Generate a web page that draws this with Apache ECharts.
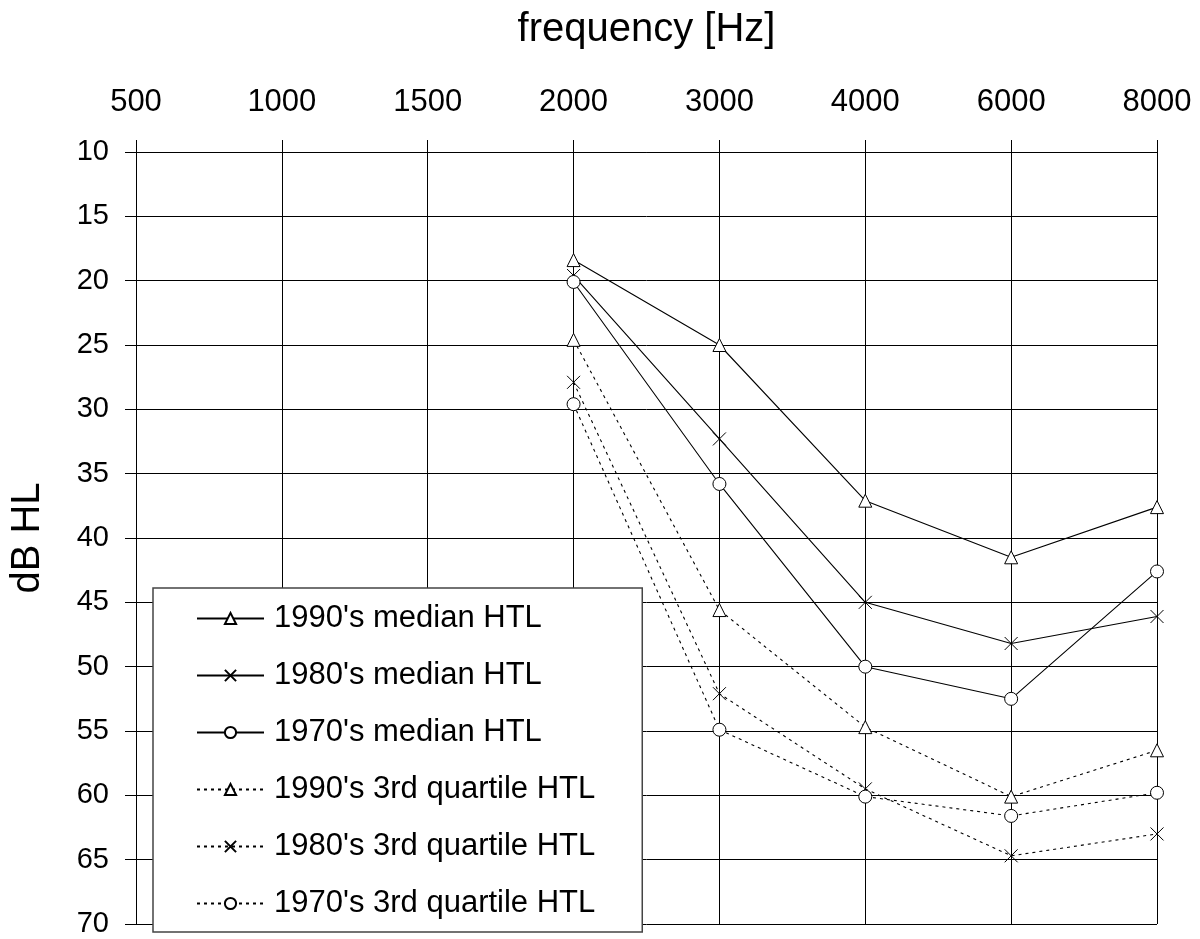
<!DOCTYPE html>
<html>
<head>
<meta charset="utf-8">
<script src="https://cdn.jsdelivr.net/npm/echarts@6/dist/echarts.min.js"></script>
<style>
html,body{margin:0;padding:0;background:#fff;}
#chart{width:1200px;height:939px;}
</style>
</head>
<body>
<div id="chart"></div>
<script>
var categories = ['500','1000','1500','2000','3000','4000','6000','8000'];
var yTicks = { min: 10, max: 70, interval: 5 };

var median1990 = [null, null, null, 18.4, 25.0, 37.1, 41.5, 37.6];
var median1980 = [null, null, null, 19.6, 32.3, 45.0, 48.2, 46.1];
var median1970 = [null, null, null, 20.1, 35.8, 50.0, 52.5, 42.6];
var q3_1990 = [null, null, null, 24.6, 45.6, 54.7, 60.1, 56.5];
var q3_1980 = [null, null, null, 27.9, 52.1, 59.5, 64.7, 63.0];
var q3_1970 = [null, null, null, 29.6, 54.9, 60.1, 61.6, 59.8];

var names = ["1990's median HTL", "1980's median HTL", "1970's median HTL",
             "1990's 3rd quartile HTL", "1980's 3rd quartile HTL", "1970's 3rd quartile HTL"];

var crossPath = 'path://M0,0L10,10M10,0L0,10';

function mkSeries(name, data, symbol, dashed) {
  return {
    name: name,
    type: 'line',
    data: data,
    symbol: symbol,
    symbolSize: symbol === 'circle' ? 13 : 13,
    showAllSymbol: true,
    connectNulls: false,
    itemStyle: { color: '#fff', borderColor: '#000', borderWidth: 1 },
    lineStyle: { color: '#000', width: 1.1, type: dashed ? [3, 4] : 'solid' },
    emphasis: { disabled: true },
    z: 3
  };
}

var chart = echarts.init(document.getElementById('chart'), null, { renderer: 'canvas' });
chart.setOption({
  animation: false,
  backgroundColor: '#fff',
  textStyle: { fontFamily: 'Liberation Sans, Arial, sans-serif', color: '#000' },
  grid: { left: 134, right: 43, top: 152, bottom: 15, containLabel: false },
  xAxis: {
    type: 'category',
    position: 'top',
    data: categories,
    boundaryGap: false,
    name: 'frequency [Hz]',
    nameLocation: 'middle',
    nameGap: 102,
    nameTextStyle: { fontSize: 40, color: '#000', fontFamily: 'Liberation Sans, Arial, sans-serif' },
    axisLine: { show: true, lineStyle: { color: '#000', width: 1 } },
    axisTick: { show: true, inside: false, length: 12, alignWithLabel: true, lineStyle: { color: '#000', width: 1 } },
    axisLabel: { fontSize: 31, color: '#000', margin: 34, interval: 0, fontFamily: 'Liberation Sans, Arial, sans-serif' },
    splitLine: { show: true, lineStyle: { color: '#000', width: 1 } }
  },
  yAxis: {
    type: 'value',
    inverse: true,
    min: yTicks.min,
    max: yTicks.max,
    interval: yTicks.interval,
    name: 'dB HL',
    nameLocation: 'middle',
    nameRotate: 90,
    nameGap: 88,
    nameTextStyle: { fontSize: 40, color: '#000', fontFamily: 'Liberation Sans, Arial, sans-serif' },
    axisLine: { show: true, lineStyle: { color: '#000', width: 1 } },
    axisTick: { show: true, inside: false, length: 11, lineStyle: { color: '#000', width: 1 } },
    axisLabel: { fontSize: 29, color: '#000', margin: 27, fontFamily: 'Liberation Sans, Arial, sans-serif' },
    splitLine: { show: true, lineStyle: { color: '#000', width: 1 } }
  },
  legend: {
    orient: 'vertical',
    left: 153,
    top: 588,
    data: names,
    itemWidth: 67,
    itemHeight: 14,
    itemGap: 26,
    padding: [15, 47, 13, 43],
    backgroundColor: '#fff',
    borderColor: '#444',
    borderWidth: 1.5,
    borderRadius: 0,
    selectedMode: false,
    textStyle: { fontSize: 31, lineHeight: 30, color: '#000', padding: [0, 0, 0, 5], fontFamily: 'Liberation Sans, Arial, sans-serif' },
    z: 10
  },
  series: [
    mkSeries(names[0], median1990, 'triangle', false),
    mkSeries(names[1], median1980, crossPath, false),
    mkSeries(names[2], median1970, 'circle', false),
    mkSeries(names[3], q3_1990, 'triangle', true),
    mkSeries(names[4], q3_1980, crossPath, true),
    mkSeries(names[5], q3_1970, 'circle', true)
  ]
});
</script>
</body>
</html>
